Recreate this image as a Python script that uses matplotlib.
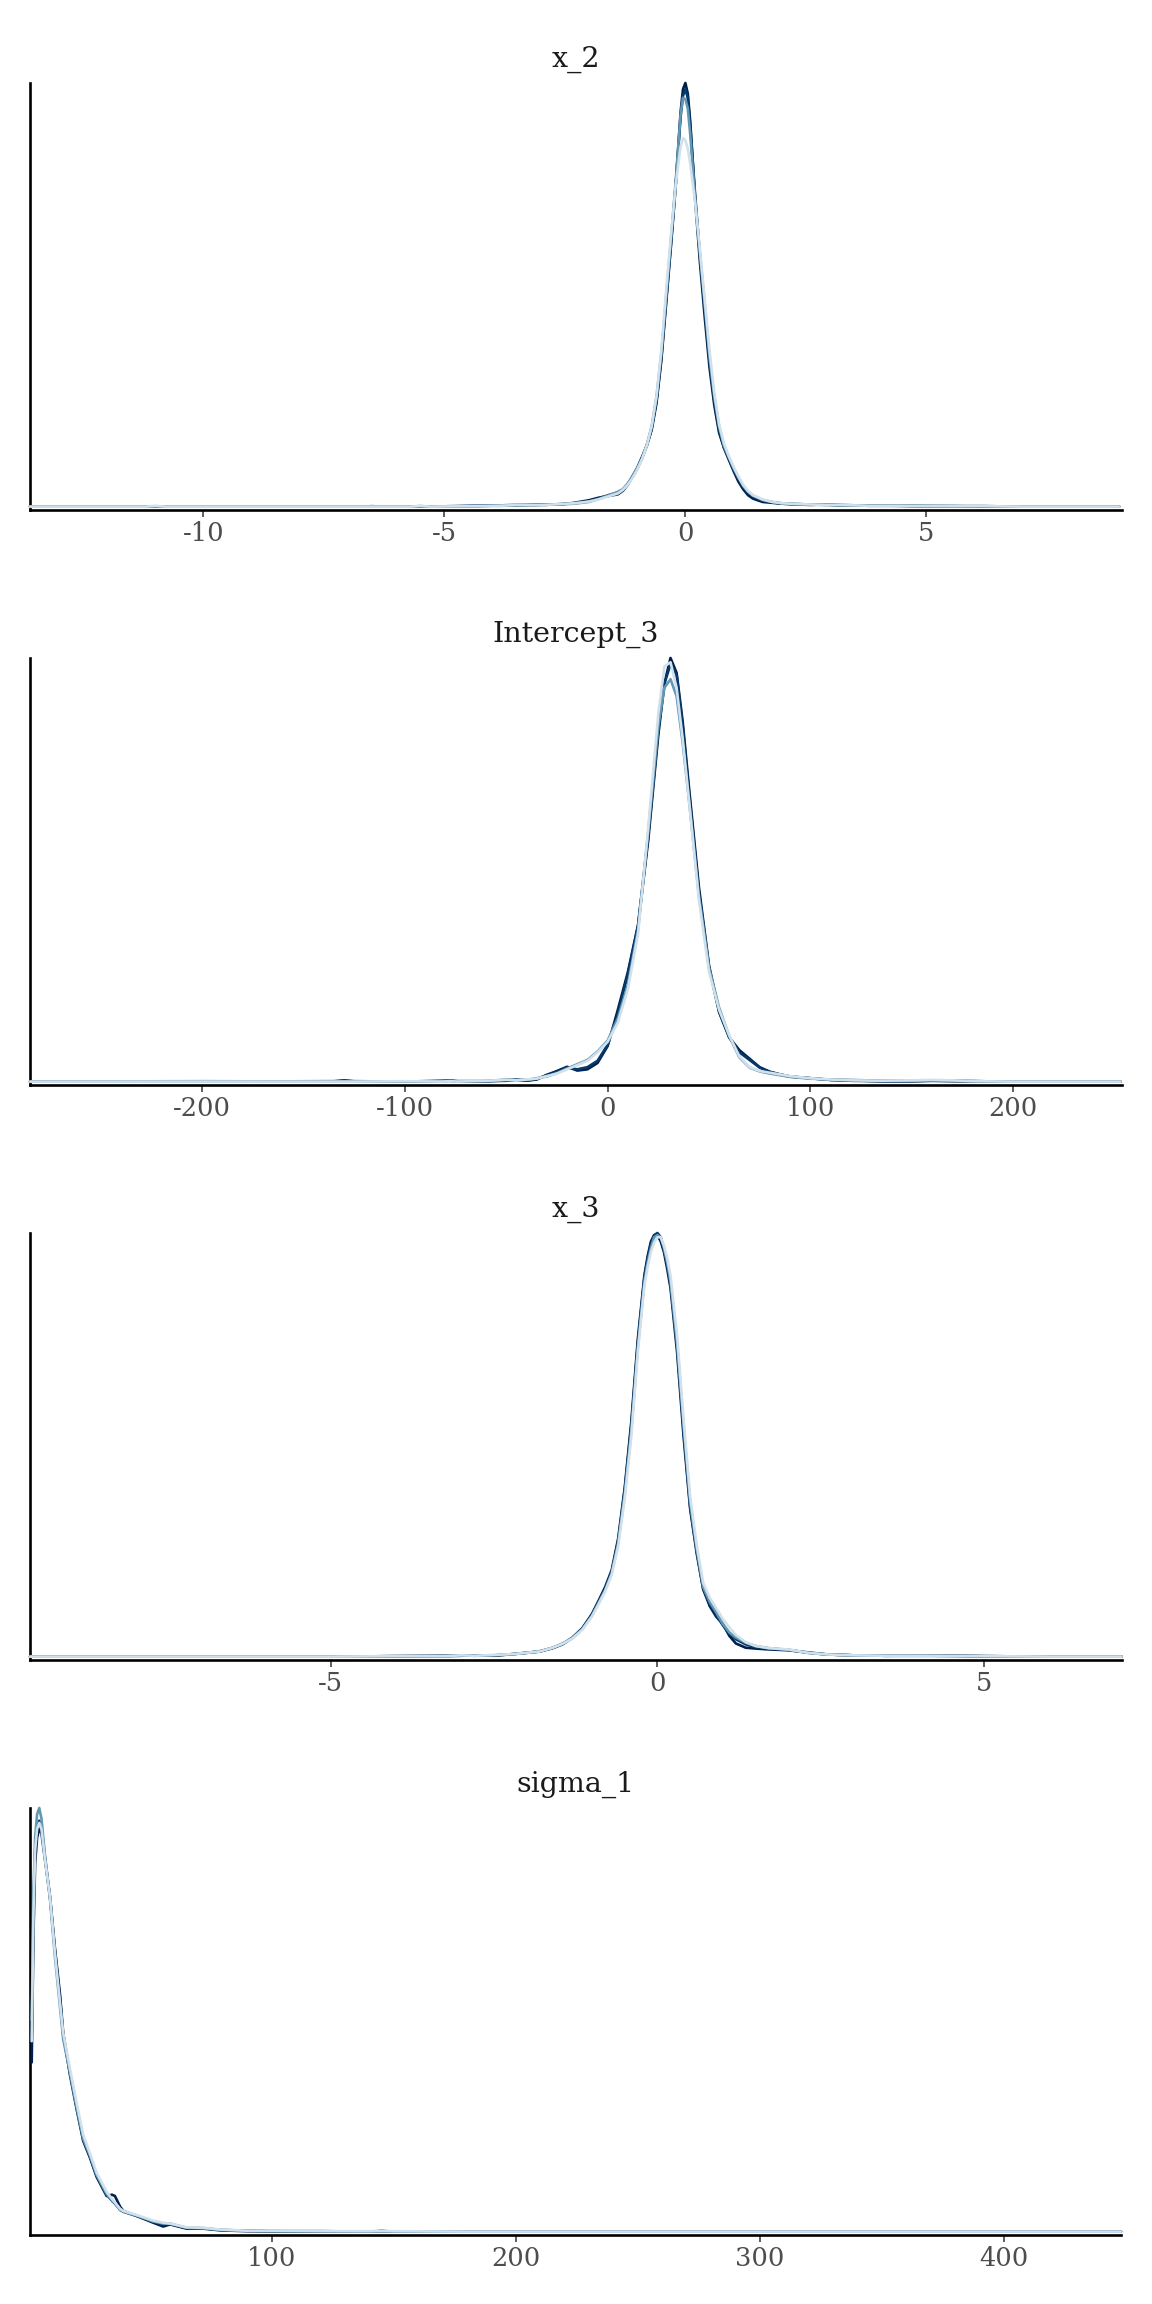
import matplotlib
matplotlib.use("Agg")
import matplotlib.pyplot as plt

plt.rcParams['font.family'] = ['DejaVu Serif', 'DejaVu Sans']
plt.rcParams['axes.unicode_minus'] = False

# ---------------- data ----------------
TITLES = ["x_2", "Intercept_3", "x_3", "sigma_1"]
CHAIN_COLORS = ["#011f4b", "#03396c", "#6497b1", "#d1e1ec"]  # draw order: dark -> light

# panel 1: x_2
P1_X = [-13.6, -11.2, -11.0, -10.8, -8.0, -6.7, -6.5, -6.3, -5.7, -5.5,
        -5.3, -4.4, -3.8, -3.5, -3.2, -2.9, -2.6, -2.3, -2.0, -1.8,
        -1.6, -1.4, -1.3, -1.2, -1.1, -1.0, -0.9, -0.8, -0.7, -0.6,
        -0.5, -0.4, -0.3, -0.2, -0.1, -0.05, 0.0, 0.05, 0.1, 0.2,
        0.3, 0.4, 0.5, 0.6, 0.7, 0.8, 0.9, 1.0, 1.1, 1.2,
        1.3, 1.4, 1.6, 1.8, 2.0, 2.3, 2.6, 2.9, 3.2, 3.5,
        3.8, 4.4, 5.0, 5.6, 6.2, 7.0, 8.0, 9.0]
P1_C4 = [0.001, 0.001, 0.001, 0.001, 0.001, 0.001, 0.001, 0.001, 0.001, 0.002,
         0.001, 0.002, 0.004, 0.005, 0.004, 0.006, 0.006, 0.010, 0.016, 0.022,
         0.026, 0.030, 0.038, 0.052, 0.072, 0.092, 0.118, 0.145, 0.182, 0.245,
         0.345, 0.48, 0.615, 0.76, 0.93, 0.985, 1.0, 0.975, 0.91, 0.73,
         0.58, 0.45, 0.33, 0.24, 0.175, 0.14, 0.112, 0.085, 0.06, 0.042,
         0.028, 0.02, 0.012, 0.010, 0.008, 0.006, 0.005, 0.006, 0.004, 0.004,
         0.003, 0.003, 0.002, 0.002, 0.002, 0.001, 0.001, 0.001]
P1_C3 = [0.001, 0.001, 0.001, 0.001, 0.001, 0.001, 0.002, 0.001, 0.001, 0.001,
         0.001, 0.003, 0.003, 0.004, 0.005, 0.005, 0.007, 0.009, 0.014, 0.020,
         0.028, 0.034, 0.040, 0.053, 0.070, 0.090, 0.115, 0.145, 0.185, 0.25,
         0.35, 0.485, 0.62, 0.76, 0.92, 0.97, 0.985, 0.965, 0.90, 0.74,
         0.595, 0.47, 0.345, 0.25, 0.18, 0.14, 0.115, 0.088, 0.065, 0.047,
         0.034, 0.025, 0.015, 0.011, 0.008, 0.007, 0.006, 0.005, 0.005, 0.004,
         0.004, 0.003, 0.002, 0.002, 0.001, 0.001, 0.001, 0.001]
P1_C2 = [0.001, 0.001, 0.001, 0.001, 0.001, 0.001, 0.001, 0.001, 0.001, 0.001,
         0.001, 0.002, 0.004, 0.004, 0.005, 0.006, 0.006, 0.008, 0.012, 0.019,
         0.027, 0.036, 0.042, 0.055, 0.072, 0.092, 0.115, 0.147, 0.19, 0.26,
         0.36, 0.495, 0.63, 0.77, 0.925, 0.965, 0.962, 0.94, 0.88, 0.73,
         0.6, 0.48, 0.355, 0.26, 0.19, 0.145, 0.118, 0.092, 0.07, 0.05,
         0.036, 0.027, 0.017, 0.012, 0.009, 0.007, 0.006, 0.006, 0.004, 0.004,
         0.003, 0.003, 0.003, 0.002, 0.002, 0.001, 0.001, 0.001]
P1_C1 = [0.001, 0.001, 0.003, 0.001, 0.001, 0.001, 0.001, 0.001, 0.001, 0.003,
         0.001, 0.002, 0.003, 0.005, 0.004, 0.005, 0.007, 0.009, 0.013, 0.018,
         0.025, 0.032, 0.040, 0.052, 0.068, 0.088, 0.113, 0.145, 0.19, 0.26,
         0.37, 0.51, 0.64, 0.76, 0.85, 0.87, 0.865, 0.845, 0.81, 0.72,
         0.61, 0.49, 0.37, 0.27, 0.195, 0.15, 0.12, 0.095, 0.072, 0.052,
         0.038, 0.028, 0.018, 0.012, 0.009, 0.007, 0.006, 0.005, 0.005, 0.004,
         0.003, 0.003, 0.002, 0.002, 0.002, 0.001, 0.001, 0.001]

# panel 2: Intercept_3
P2_X = [-285, -200, -135, -130, -125, -100, -82, -78, -74, -60,
        -50, -45, -40, -35, -30, -25, -20, -15, -10, -5,
        0, 5, 10, 15, 20, 25, 28, 31, 34, 37,
        40, 45, 50, 55, 60, 65, 70, 75, 80, 85,
        90, 100, 110, 120, 135, 150, 160, 170, 180, 200,
        253]
P2_C4 = [0.001, 0.001, 0.001, 0.003, 0.001, 0.001, 0.002, 0.003, 0.001, 0.002,
         0.003, 0.005, 0.003, 0.006, 0.017, 0.026, 0.036, 0.027, 0.03, 0.045,
         0.085, 0.17, 0.26, 0.37, 0.57, 0.82, 0.94, 1.0, 0.965, 0.85,
         0.7, 0.46, 0.275, 0.165, 0.105, 0.075, 0.055, 0.035, 0.024, 0.018,
         0.013, 0.009, 0.005, 0.003, 0.002, 0.002, 0.003, 0.002, 0.002, 0.001,
         0.001]
P2_C3 = [0.001, 0.001, 0.002, 0.004, 0.002, 0.001, 0.003, 0.004, 0.002, 0.002,
         0.004, 0.006, 0.004, 0.007, 0.016, 0.024, 0.034, 0.03, 0.035, 0.05,
         0.088, 0.16, 0.255, 0.37, 0.58, 0.83, 0.94, 0.985, 0.96, 0.84,
         0.69, 0.45, 0.27, 0.165, 0.105, 0.07, 0.052, 0.034, 0.024, 0.018,
         0.013, 0.009, 0.005, 0.004, 0.002, 0.002, 0.003, 0.003, 0.002, 0.001,
         0.001]
P2_C2 = [0.001, 0.002, 0.001, 0.001, 0.001, 0.001, 0.002, 0.003, 0.002, 0.002,
         0.006, 0.005, 0.005, 0.009, 0.013, 0.021, 0.032, 0.042, 0.052, 0.072,
         0.098, 0.15, 0.23, 0.36, 0.59, 0.84, 0.93, 0.95, 0.91, 0.8,
         0.67, 0.44, 0.27, 0.175, 0.108, 0.058, 0.034, 0.025, 0.02, 0.016,
         0.012, 0.008, 0.006, 0.005, 0.003, 0.003, 0.004, 0.003, 0.002, 0.001,
         0.001]
P2_C1 = [0.001, 0.001, 0.001, 0.001, 0.001, 0.002, 0.001, 0.002, 0.001, 0.003,
         0.005, 0.004, 0.006, 0.008, 0.014, 0.02, 0.03, 0.04, 0.05, 0.07,
         0.095, 0.14, 0.22, 0.35, 0.6, 0.87, 0.98, 0.99, 0.93, 0.81,
         0.67, 0.43, 0.26, 0.17, 0.11, 0.06, 0.035, 0.026, 0.022, 0.018,
         0.014, 0.009, 0.006, 0.004, 0.003, 0.004, 0.005, 0.004, 0.002, 0.001,
         0.001]

# panel 3: x_3
P3_X = [-9.6, -7.0, -5.0, -4.0, -3.3, -3.0, -2.8, -2.5, -2.2, -2.0,
        -1.8, -1.6, -1.45, -1.3, -1.15, -1.0, -0.9, -0.8, -0.7, -0.6,
        -0.5, -0.4, -0.3, -0.2, -0.15, -0.1, -0.05, 0.0, 0.05, 0.1,
        0.15, 0.2, 0.3, 0.4, 0.5, 0.6, 0.7, 0.8, 0.9, 1.0,
        1.1, 1.2, 1.35, 1.5, 1.7, 2.0, 2.3, 2.6, 3.0, 3.5,
        4.2, 5.0, 6.0, 7.1]
P3_C4 = [0.001, 0.001, 0.001, 0.002, 0.002, 0.003, 0.004, 0.003, 0.007, 0.01,
         0.013, 0.021, 0.03, 0.046, 0.068, 0.102, 0.133, 0.165, 0.205, 0.28,
         0.40, 0.555, 0.75, 0.90, 0.945, 0.98, 0.995, 0.995, 0.98, 0.955,
         0.915, 0.87, 0.72, 0.52, 0.35, 0.245, 0.16, 0.12, 0.095, 0.078,
         0.05, 0.032, 0.022, 0.02, 0.018, 0.016, 0.011, 0.006, 0.004, 0.003,
         0.004, 0.002, 0.001, 0.001]
P3_C3 = [0.001, 0.001, 0.001, 0.002, 0.003, 0.004, 0.003, 0.004, 0.007, 0.01,
         0.013, 0.022, 0.031, 0.045, 0.066, 0.1, 0.13, 0.16, 0.2, 0.275,
         0.395, 0.545, 0.74, 0.895, 0.94, 0.975, 0.995, 1.0, 0.99, 0.96,
         0.925, 0.88, 0.735, 0.535, 0.355, 0.25, 0.16, 0.125, 0.1, 0.075,
         0.055, 0.042, 0.03, 0.023, 0.02, 0.017, 0.01, 0.006, 0.004, 0.003,
         0.003, 0.002, 0.001, 0.001]
P3_C2 = [0.001, 0.001, 0.001, 0.002, 0.002, 0.004, 0.003, 0.004, 0.007, 0.01,
         0.014, 0.022, 0.032, 0.045, 0.066, 0.098, 0.128, 0.158, 0.198, 0.27,
         0.385, 0.535, 0.73, 0.885, 0.93, 0.965, 0.99, 0.995, 0.99, 0.965,
         0.93, 0.885, 0.74, 0.545, 0.365, 0.255, 0.165, 0.13, 0.105, 0.078,
         0.058, 0.046, 0.034, 0.026, 0.021, 0.017, 0.01, 0.006, 0.004, 0.003,
         0.003, 0.002, 0.001, 0.001]
P3_C1 = [0.001, 0.001, 0.001, 0.002, 0.002, 0.004, 0.003, 0.005, 0.007, 0.01,
         0.013, 0.022, 0.031, 0.044, 0.064, 0.096, 0.125, 0.155, 0.194, 0.262,
         0.375, 0.52, 0.72, 0.875, 0.92, 0.955, 0.978, 0.99, 0.99, 0.97,
         0.94, 0.9, 0.76, 0.56, 0.38, 0.265, 0.175, 0.14, 0.115, 0.09,
         0.07, 0.052, 0.035, 0.026, 0.021, 0.018, 0.01, 0.006, 0.004, 0.003,
         0.003, 0.002, 0.001, 0.001]

# panel 4: sigma_1
P4_X = [1.6, 2.3, 3.0, 3.8, 4.7, 5.6, 7.0, 9.1, 11.1, 13.2,
        14.5, 17.3, 20.0, 22.7, 25.5, 28.2, 32.3, 34.5, 35.7, 37.8,
        39.1, 44.6, 51.4, 55.5, 58.3, 65.1, 71.9, 78.8, 90, 100,
        120, 140, 145, 150, 180, 220, 250, 300, 350, 400,
        448]
P4_C4 = [0.40, 0.70, 0.87, 0.93, 0.952, 0.94, 0.88, 0.79, 0.67, 0.56,
         0.47, 0.37, 0.29, 0.215, 0.175, 0.13, 0.085, 0.088, 0.085, 0.06,
         0.05, 0.038, 0.022, 0.013, 0.018, 0.008, 0.008, 0.004, 0.002, 0.002,
         0.001, 0.001, 0.002, 0.001, 0.001, 0.001, 0.001, 0.001, 0.001, 0.001,
         0.001]
P4_C3 = [0.45, 0.76, 0.90, 0.955, 0.97, 0.955, 0.885, 0.79, 0.665, 0.55,
         0.465, 0.375, 0.295, 0.218, 0.178, 0.133, 0.088, 0.074, 0.067, 0.053,
         0.048, 0.038, 0.024, 0.018, 0.019, 0.009, 0.009, 0.005, 0.003, 0.002,
         0.002, 0.001, 0.002, 0.001, 0.001, 0.001, 0.001, 0.001, 0.001, 0.001,
         0.001]
P4_C2 = [0.50, 0.80, 0.93, 0.985, 1.0, 0.975, 0.89, 0.785, 0.65, 0.53,
         0.455, 0.375, 0.295, 0.22, 0.18, 0.135, 0.09, 0.075, 0.068, 0.052,
         0.048, 0.039, 0.025, 0.02, 0.02, 0.01, 0.009, 0.005, 0.003, 0.002,
         0.002, 0.001, 0.003, 0.001, 0.001, 0.001, 0.001, 0.001, 0.001, 0.001,
         0.001]
P4_C1 = [0.45, 0.75, 0.90, 0.95, 0.965, 0.95, 0.88, 0.79, 0.66, 0.54,
         0.47, 0.385, 0.305, 0.23, 0.185, 0.14, 0.095, 0.078, 0.07, 0.055,
         0.05, 0.04, 0.027, 0.022, 0.02, 0.011, 0.01, 0.006, 0.003, 0.003,
         0.002, 0.002, 0.002, 0.002, 0.001, 0.001, 0.001, 0.001, 0.001, 0.001,
         0.001]

P1_TICKS = [-10, -5, 0, 5]
P1_LABELS = ["-10", "-5", "0", "5"]
P2_TICKS = [-200, -100, 0, 100, 200]
P2_LABELS = ["-200", "-100", "0", "100", "200"]
P3_TICKS = [-5, 0, 5]
P3_LABELS = ["-5", "0", "5"]
P4_TICKS = [100, 200, 300, 400]
P4_LABELS = ["100", "200", "300", "400"]

XLIMS = [(-13.6, 9.05), (-285, 253.5), (-9.6, 7.1), (0.9, 448.2)]

panels = [
    (P1_X, [P1_C4, P1_C3, P1_C2, P1_C1], P1_TICKS, P1_LABELS),
    (P2_X, [P2_C4, P2_C3, P2_C2, P2_C1], P2_TICKS, P2_LABELS),
    (P3_X, [P3_C4, P3_C3, P3_C2, P3_C1], P3_TICKS, P3_LABELS),
    (P4_X, [P4_C4, P4_C3, P4_C2, P4_C1], P4_TICKS, P4_LABELS),
]

# ---------------- layout ----------------
W, H = 1152, 2304
fig = plt.figure(figsize=(W / 100, H / 100), dpi=100)
left_px, right_px = 30, 1121.5
bottoms_px = [510, 1085, 1660, 2235]
height_px = 427

for i, (xs, chains, ticks, labels) in enumerate(panels):
    b = bottoms_px[i]
    ax = fig.add_axes([left_px / W, 1 - b / H, (right_px - left_px) / W, height_px / H])
    for ys, col in zip(chains, CHAIN_COLORS):
        ax.plot(xs, ys, color=col, lw=1.9, solid_joinstyle='round',
                solid_capstyle='round', clip_on=False, zorder=3)
    ax.set_xlim(*XLIMS[i])
    ax.set_ylim(-0.007, 1.0)
    ax.set_yticks([])
    ax.set_xticks(ticks)
    ax.set_xticklabels(labels)
    ax.tick_params(axis='x', length=5, width=1.1, color='#333333',
                   labelsize=18.5, labelcolor='#4D4D4D', pad=3)
    for s in ['top', 'right']:
        ax.spines[s].set_visible(False)
    for s in ['left', 'bottom']:
        ax.spines[s].set_linewidth(1.9)
        ax.spines[s].set_color('black')
        ax.spines[s].set_zorder(2)
    ax.patch.set_alpha(0)
    ax.text(0.5, 1 + 16 / height_px, TITLES[i], transform=ax.transAxes,
            ha='center', va='baseline', fontsize=20.5, color='#1a1a1a')

fig.savefig("out.png", dpi=100, facecolor='white')
